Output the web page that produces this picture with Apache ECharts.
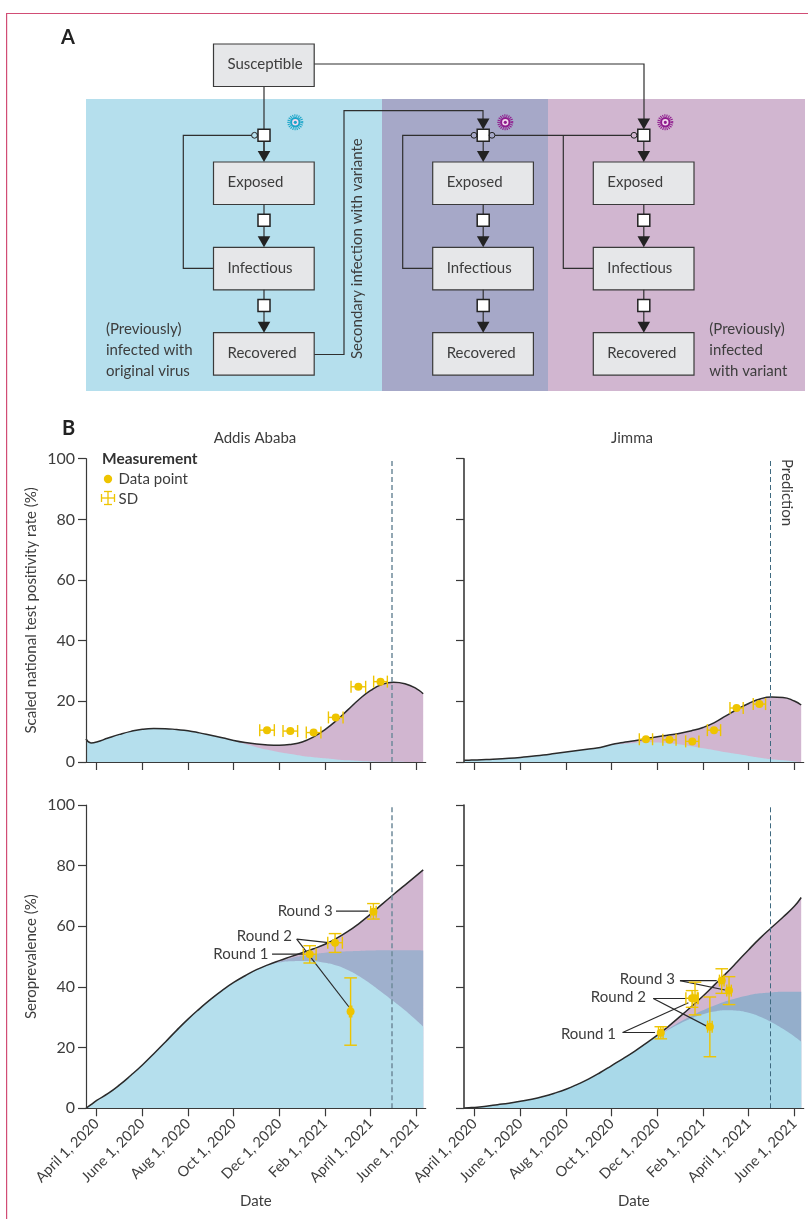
<!DOCTYPE html>
<html>
<head>
<meta charset="utf-8">
<title>Seroprevalence model</title>
<style>
  html, body { margin: 0; padding: 0; background: #fff; }
  #main { width: 808px; height: 1219px; }
</style>
<script src="https://cdn.jsdelivr.net/npm/echarts@6/dist/echarts.min.js"></script>
</head>
<body>
<div id="main"></div>
<script>
// months since April 1, 2020
var months = [-0.47, -0.25, 0, 0.5, 1, 1.5, 2, 2.5, 3, 3.5, 4, 4.5, 5, 5.5, 6, 6.5, 7, 7.5, 8, 8.5, 9, 9.5, 10, 10.5, 11, 11.5, 12, 12.5, 13, 13.5, 14, 14.3];
var tickMonths = [0, 2, 4, 6, 8, 10, 12, 14];
var tickLabels = ['April 1, 2020', 'June 1, 2020', 'Aug 1, 2020', 'Oct 1, 2020', 'Dec 1, 2020', 'Feb 1, 2021', 'April 1, 2021', 'June 1, 2021'];
var predictionMonth = 12.94;

// Addis Ababa, test positivity
var addisTotal = [7.6, 6.3, 6.6, 7.9, 9.1, 10.1, 10.8, 11.05, 11.0, 10.7, 10.3, 9.6, 8.8, 8.0, 7.1, 6.4, 5.9, 5.6, 5.5, 5.8, 6.6, 8.3, 10.7, 13.7, 17.2, 20.7, 23.6, 25.6, 26.3, 25.8, 24.2, 22.5];
var addisOriginal = [7.6, 6.3, 6.6, 7.9, 9.1, 10.1, 10.8, 11.05, 11.0, 10.7, 10.3, 9.6, 8.8, 8.0, 7.0, 5.9, 4.9, 4.0, 3.2, 2.6, 2.0, 1.6, 1.2, 0.85, 0.55, 0.35, 0.2, 0.12, 0.08, 0.04, 0.01, 0];
var addisPoints = [[7.46, 10.5, 0.32, 10.5, 10.5], [8.48, 10.2, 0.32, 10.2, 10.2], [9.5, 9.7, 0.32, 9.7, 9.7], [10.47, 14.7, 0.32, 14.7, 14.7], [11.46, 24.8, 0.32, 24.8, 24.8], [12.43, 26.5, 0.3, 26.5, 26.5]];

// Jimma, test positivity
var jimmaTotal = [0.55, 0.6, 0.65, 0.8, 1.0, 1.2, 1.5, 1.9, 2.3, 2.8, 3.3, 3.8, 4.3, 4.8, 5.8, 6.4, 7.0, 7.7, 8.35, 8.9, 9.5, 10.3, 11.4, 13, 15.2, 17.4, 19.3, 20.8, 21.4, 21.3, 20.1, 18.8];
var jimmaOriginal = [0.55, 0.6, 0.65, 0.8, 1.0, 1.2, 1.5, 1.9, 2.3, 2.8, 3.3, 3.8, 4.3, 4.8, 5.6, 6.0, 6.3, 6.5, 6.4, 6.2, 5.8, 5.2, 4.5, 3.9, 3.2, 2.6, 2.0, 1.4, 0.9, 0.55, 0.2, 0.05];
var jimmaPoints = [[7.5, 7.5, 0.29, 7.5, 7.5], [8.53, 7.3, 0.29, 7.3, 7.3], [9.53, 6.8, 0.29, 6.8, 6.8], [10.48, 10.5, 0.29, 10.5, 10.5], [11.47, 17.8, 0.29, 17.8, 17.8], [12.47, 19.1, 0.27, 19.1, 19.1]];

// Addis Ababa, seroprevalence
var addisSeroTotal = [0, 1.2, 2.6, 4.9, 7.7, 10.9, 14.3, 18, 21.8, 25.7, 29.4, 32.8, 36, 38.9, 41.5, 43.7, 45.7, 47.3, 48.7, 50, 51.3, 52.6, 54.1, 56, 58.3, 61, 64, 67.3, 70.5, 73.6, 76.7, 78.6];
var addisSeroSecondary = [0, 1.2, 2.6, 4.9, 7.7, 10.9, 14.3, 18, 21.8, 25.7, 29.4, 32.8, 36, 38.9, 41.5, 43.7, 45.7, 47.2, 48.4, 49.5, 50.3, 50.9, 51.3, 51.6, 51.8, 51.9, 52, 52.1, 52.1, 52.1, 52.1, 52];
var addisSeroOriginal = [0, 1.2, 2.6, 4.9, 7.7, 10.9, 14.3, 18, 21.8, 25.7, 29.4, 32.8, 36, 38.9, 41.5, 43.7, 45.7, 47.2, 48.1, 48.5, 48.6, 48.5, 48, 47.1, 45.6, 43.5, 41, 38.2, 35.3, 32.3, 29, 26.9];
var addisSeroPoints = [[9.33, 50.8, 0.28, 47.9, 53.6], [10.44, 54.6, 0.32, 51.4, 57.6], [11.12, 31.9, 0.05, 20.8, 43], [12.12, 64.8, 0.12, 62.4, 67.5]];
var addisLeaders = [[7.68, 50.8, 9.1, 50.8], [8.76, 55.8, 10.15, 54.6], [8.76, 55.8, 11.05, 33.4], [10.48, 65, 11.9, 65]];
var addisRounds = [['Round 1', 7.52, 50.8], ['Round 2', 8.55, 56.6], ['Round 3', 10.34, 64.9]];

// Jimma, seroprevalence
var jimmaSeroTotal = [0.1, 0.2, 0.3, 0.7, 1.2, 1.7, 2.3, 3.0, 3.9, 5, 6.3, 7.9, 9.7, 11.8, 14.1, 16.4, 18.8, 21.4, 24.1, 27.1, 30.3, 33.6, 37, 40.7, 44.4, 48.3, 52.3, 56.1, 59.6, 63, 66.6, 69.5];
var jimmaSeroSecondary = [0.1, 0.2, 0.3, 0.7, 1.2, 1.7, 2.3, 3.0, 3.9, 5, 6.3, 7.9, 9.7, 11.8, 14.1, 16.4, 18.8, 21.3, 23.8, 26.2, 28.5, 30.5, 32.3, 33.9, 35.3, 36.4, 37.3, 37.9, 38.2, 38.4, 38.4, 38.4];
var jimmaSeroOriginal = [0.1, 0.2, 0.3, 0.7, 1.2, 1.7, 2.3, 3.0, 3.9, 5, 6.3, 7.9, 9.7, 11.8, 14.1, 16.4, 18.8, 21.3, 23.8, 26.0, 28, 29.7, 31, 31.9, 32.3, 32.2, 31.5, 30.2, 28.4, 26.2, 23.7, 22];
var jimmaSeroPoints = [[8.15, 24.9, 0.1, 22.9, 26.9], [9.52, 36.3, 0.27, 33.3, 38.8], [9.65, 36.3, 0.1, 30.8, 41.6], [10.3, 26.9, 0.1, 17, 36.7], [10.82, 42.1, 0.1, 37.9, 46], [11.14, 38.8, 0.1, 34.2, 43.4]];
var jimmaLeaders = [[6.48, 25, 7.9, 25], [6.48, 25, 9.36, 34.8], [7.82, 36.2, 9.36, 36.2], [7.82, 36.2, 10.16, 27.1], [8.99, 42.1, 10.6, 42.1], [8.99, 42.1, 10.96, 39]];
var jimmaRounds = [['Round 1', 6.19, 24.5], ['Round 2', 7.5, 36.5], ['Round 3', 8.77, 42.6]];

var FONT = 'Lato';
var INK = '#3d3d3d';
var GOLD = '#eec400';
var BLUE = '#b5dfed', MID = '#9fb0cd', PINK = '#d1b6d0';

var chartDom = document.getElementById('main');
var myChart = echarts.init(chartDom);

function pairs(vals) {
  return vals.map(function (v, i) { return [months[i], v]; });
}

// one panel: index i, grid rectangle, series data
var panels = [
  { top: 458.7, left: 86, blue: BLUE, mid: MID, total: addisTotal, original: addisOriginal, points: addisPoints, yName: 'Scaled national test positivity rate (%)', labels: true, dates: false, dash: '#6f8a9a', dashW: 1.5 },
  { top: 458.7, left: 464, blue: BLUE, mid: MID, total: jimmaTotal, original: jimmaOriginal, points: jimmaPoints, labels: false, dates: false, dash: '#3f6a80', dashW: 1 },
  { top: 805, left: 86, blue: BLUE, mid: MID, total: addisSeroTotal, secondary: addisSeroSecondary, original: addisSeroOriginal, points: addisSeroPoints, leaders: addisLeaders, rounds: addisRounds, yName: 'Seroprevalence (%)', labels: true, dates: true, dash: '#6f8a9a', dashW: 1.5 },
  { top: 805, left: 464, blue: '#a9d9e9', mid: '#94aecb', total: jimmaSeroTotal, secondary: jimmaSeroSecondary, original: jimmaSeroOriginal, points: jimmaSeroPoints, leaders: jimmaLeaders, rounds: jimmaRounds, labels: false, dates: true, dash: '#3f6a80', dashW: 1 }
];

var grids = [], xAxes = [], yAxes = [], seriesList = [];

function areaSeries(i, name, vals, color, z) {
  return {
    name: name, type: 'line', xAxisIndex: i, yAxisIndex: i, data: pairs(vals),
    smooth: 0.5, showSymbol: false, silent: true, z: z,
    lineStyle: { width: 0 }, areaStyle: { color: color, opacity: 1 }
  };
}

function errorItem(points) {
  return function (params, api) {
    var d = points[params.dataIndex];
    var c = api.coord([d[0], d[1]]);
    var left = api.coord([d[0] - d[2], d[1]]);
    var right = api.coord([d[0] + d[2], d[1]]);
    var low = api.coord([d[0], d[3]]);
    var high = api.coord([d[0], d[4]]);
    var st = { stroke: GOLD, lineWidth: 1.4, fill: null };
    var seg = function (x1, y1, x2, y2) {
      return { type: 'line', shape: { x1: x1, y1: y1, x2: x2, y2: y2 }, style: st };
    };
    var kids = [
      seg(left[0], c[1], right[0], c[1]),
      seg(left[0], c[1] - 6, left[0], c[1] + 6),
      seg(right[0], c[1] - 6, right[0], c[1] + 6)
    ];
    if (d[3] !== d[4]) {
      kids.push(seg(c[0], low[1], c[0], high[1]));
      kids.push(seg(c[0] - 6.3, low[1], c[0] + 6.3, low[1]));
      kids.push(seg(c[0] - 6.3, high[1], c[0] + 6.3, high[1]));
    }
    kids.push({ type: 'circle', shape: { cx: c[0], cy: c[1], r: 4 }, style: { fill: GOLD } });
    return { type: 'group', children: kids };
  };
}

panels.forEach(function (p, i) {
  grids.push({ left: p.left, top: p.top, width: 339.7, height: 303.3 });
  xAxes.push({
    type: 'value', gridIndex: i, min: -0.469, max: 14.41, z: 5,
    splitLine: { show: false },
    axisLine: { onZero: false, lineStyle: { color: '#3a3a3a', width: 1.2 } },
    axisTick: { length: 8, customValues: tickMonths, lineStyle: { color: '#3a3a3a', width: 1.2 } },
    axisLabel: {
      show: p.dates, rotate: 45, customValues: tickMonths, margin: 13,
      fontFamily: FONT, fontSize: 14.5, color: INK,
      formatter: function (v) { return tickLabels[v / 2]; }
    },
    name: p.dates ? 'Date' : '', nameLocation: 'middle', nameGap: 85,
    nameTextStyle: { fontFamily: FONT, fontSize: 15, color: INK }
  });
  yAxes.push({
    type: 'value', gridIndex: i, min: 0, max: 100, interval: 20, z: 5,
    splitLine: { show: false },
    axisLine: { show: true, onZero: false, lineStyle: { color: '#3a3a3a', width: i % 2 ? 1.6 : 1.2 } },
    axisTick: { show: true, length: 8, lineStyle: { color: '#3a3a3a', width: 1.2 } },
    axisLabel: { show: p.labels, margin: 11, fontFamily: FONT, fontSize: 16, color: INK },
    name: p.yName || '', nameLocation: 'middle', nameGap: 47,
    nameTextStyle: { fontFamily: FONT, fontSize: 15, color: INK }
  });
  seriesList.push(areaSeries(i, 'total', p.total, PINK, 2));
  if (p.secondary) seriesList.push(areaSeries(i, 'secondary', p.secondary, p.mid, 2));
  seriesList.push(areaSeries(i, 'original', p.original, p.blue, 2));
  seriesList.push({
    name: 'model', type: 'line', xAxisIndex: i, yAxisIndex: i, data: pairs(p.total),
    smooth: 0.5, showSymbol: false, silent: true, z: 3,
    lineStyle: { color: '#2a2a2a', width: 1.5 },
    markLine: {
      silent: true, symbol: 'none', animation: false, label: { show: false },
      lineStyle: { color: p.dash, width: p.dashW, type: [5, 3] },
      data: [{ xAxis: predictionMonth }]
    }
  });
  if (p.leaders) {
    seriesList.push({
      type: 'custom', xAxisIndex: i, yAxisIndex: i, data: p.leaders, silent: true, z: 6,
      encode: { x: [0, 2], y: [1, 3] },
      renderItem: function (params, api) {
        var d = p.leaders[params.dataIndex];
        var a = api.coord([d[0], d[1]]), b = api.coord([d[2], d[3]]);
        return { type: 'line', shape: { x1: a[0], y1: a[1], x2: b[0], y2: b[1] }, style: { stroke: '#2a2a2a', lineWidth: 1.2 } };
      }
    });
    seriesList.push({
      type: 'custom', xAxisIndex: i, yAxisIndex: i, silent: true, z: 8,
      data: p.rounds.map(function (r) { return [r[1], r[2]]; }),
      encode: { x: 0, y: 1 },
      renderItem: function (params, api) {
        var r = p.rounds[params.dataIndex];
        var c = api.coord([r[1], r[2]]);
        return { type: 'text', style: { text: r[0], x: c[0], y: c[1], align: 'right', verticalAlign: 'middle', fontFamily: FONT, fontSize: 15, fill: INK } };
      }
    });
  }
  seriesList.push({
    type: 'custom', xAxisIndex: i, yAxisIndex: i, data: p.points, silent: true, z: 7,
    encode: { x: 0, y: 1 }, clip: false,
    renderItem: errorItem(p.points)
  });
});

// ---- panel A flow diagram + page furniture ----
var gfx = [];
function rect(x, y, w, h, fill, stroke, lw) {
  gfx.push({ type: 'rect', shape: { x: x, y: y, width: w, height: h }, style: { fill: fill, stroke: stroke || null, lineWidth: lw || 0 }, silent: true });
}
function poly(points) {
  gfx.push({ type: 'polyline', shape: { points: points }, style: { stroke: '#2f2f2f', lineWidth: 1.2, fill: null }, silent: true });
}
function text(str, x, y, opt) {
  opt = opt || {};
  gfx.push({
    type: 'text', x: x, y: y, rotation: opt.rotation || 0, silent: true,
    style: { text: str, x: 0, y: 0, fill: opt.color || INK, fontFamily: FONT, fontSize: opt.size || 15, fontWeight: opt.weight || 'normal', align: opt.align || 'left', verticalAlign: 'middle', lineHeight: 21 }
  });
}
function arrow(cx, tip) {
  gfx.push({ type: 'polygon', shape: { points: [[cx - 6.3, tip - 11], [cx + 6.3, tip - 11], [cx, tip]] }, style: { fill: '#222' }, silent: true });
}
function square(cx, cy) {
  rect(cx - 6, cy - 6, 12, 12, '#fff', '#222', 1.5);
}
function ring(cx, cy) {
  gfx.push({ type: 'circle', shape: { cx: cx, cy: cy, r: 2.9 }, style: { fill: null, stroke: '#222', lineWidth: 1 }, silent: true });
}
function virus(cx, cy, color) {
  gfx.push({ type: 'circle', shape: { cx: cx, cy: cy, r: 6.6 }, style: { fill: null, stroke: color, lineWidth: 2.8, lineDash: [1, 1] }, silent: true });
  gfx.push({ type: 'circle', shape: { cx: cx, cy: cy, r: 4.2 }, style: { fill: '#f2d9ee', stroke: color, lineWidth: 2 }, silent: true });
  gfx.push({ type: 'circle', shape: { cx: cx, cy: cy, r: 1.6 }, style: { fill: color }, silent: true });
}
function box(label, x, y) {
  rect(x, y, 100.7, 42.5, '#e6e7e9', '#3a3a3a', 1.2);
  text(label, x + 14, y + 20.5, { size: 15 });
}
function column(x, cx) {
  box('Exposed', x, 162);
  box('Infectious', x, 247.3);
  box('Recovered', x, 332.7);
  poly([[cx, 142], [cx, 152]]);
  poly([[cx, 204.5], [cx, 237]]);
  poly([[cx, 289.8], [cx, 322]]);
  arrow(cx, 162);
  arrow(cx, 247.3);
  arrow(cx, 332.7);
  square(cx, 220.3);
  square(cx, 305.5);
}

// frame
gfx.push({ type: 'polyline', shape: { points: [[6.6, 1219], [6.6, 13.5], [808, 13.5]] }, style: { stroke: '#d14d75', lineWidth: 1.2, fill: null }, silent: true });
// bands
rect(86, 99, 296, 292, BLUE);
rect(382, 99, 166, 292, '#a6a8c8');
rect(548, 99, 257, 292, PINK);

text('A', 61, 37.5, { size: 20, weight: 'bold', color: '#222' });
text('B', 62, 428.5, { size: 20, weight: 'bold', color: '#222' });

// connectors
poly([[264, 86], [264, 152]]);
poly([[314, 64], [644, 64], [644, 120]]);
poly([[314, 354.5], [344, 354.5], [344, 110.7], [483, 110.7], [483, 120]]);
poly([[251.5, 135.3], [183.3, 135.3], [183.3, 268.3], [213.5, 268.3]]);
poly([[471, 135.3], [402.7, 135.3], [402.7, 268.3], [432.7, 268.3]]);
poly([[495, 135.3], [631, 135.3]]);
poly([[563.3, 135.3], [563.3, 268.3], [593.3, 268.3]]);

box('Susceptible', 213.5, 44);
column(213.5, 264);
column(432.7, 483.2);
column(593.3, 643.8);
arrow(483.2, 129.5);
arrow(643.8, 129.5);
[264, 483.2, 643.8].forEach(function (cx) { square(cx, 135.3); });
ring(254.5, 135.3); ring(474, 135.3); ring(492, 135.3); ring(634, 135.3);
virus(295.3, 122.3, '#1ba5c9');
virus(505.3, 122.3, '#8f1c8e');
virus(665.3, 122.3, '#8f1c8e');

text('Secondary infection with variante', 357.5, 359, { rotation: Math.PI / 2 });
text('(Previously)\ninfected with\noriginal virus', 106, 350);
text('(Previously)\ninfected\nwith variant', 709.3, 350);

// legend of panel B
text('Measurement', 102, 459, { size: 15.5, weight: 'bold', color: '#333' });
gfx.push({ type: 'circle', shape: { cx: 108, cy: 479, r: 4.2 }, style: { fill: GOLD }, silent: true });
text('Data point', 118.5, 479);
[[101.5, 498, 114.5, 498], [108, 491.5, 108, 504.5], [101.5, 494, 101.5, 502], [114.5, 494, 114.5, 502], [104, 491.5, 112, 491.5], [104, 504.5, 112, 504.5]].forEach(function (s) {
  gfx.push({ type: 'line', shape: { x1: s[0], y1: s[1], x2: s[2], y2: s[3] }, style: { stroke: GOLD, lineWidth: 1.3 }, silent: true });
});
text('SD', 118.5, 499.5);
text('Prediction', 786.5, 459, { rotation: -Math.PI / 2 });

var option = {
  animation: false,
  backgroundColor: '#fff',
  title: [
    { text: 'Addis Ababa', left: 250, top: 426, textAlign: 'center', textStyle: { fontFamily: FONT, fontSize: 15, fontWeight: 'normal', color: INK } },
    { text: 'Jimma', left: 627, top: 426, textAlign: 'center', textStyle: { fontFamily: FONT, fontSize: 15, fontWeight: 'normal', color: INK } }
  ],
  grid: grids,
  xAxis: xAxes,
  yAxis: yAxes,
  series: seriesList,
  graphic: { elements: gfx }
};
option && myChart.setOption(option);
</script>
</body>
</html>
